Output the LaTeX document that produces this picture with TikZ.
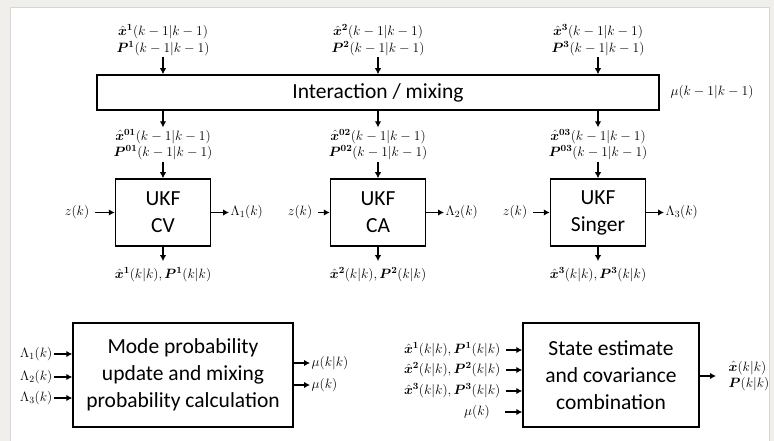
\documentclass[tikz,border=0pt]{standalone}
\usepackage{fix-cm}
\usepackage{amsmath}
\usepackage{bm}
\usepackage{fontspec}
\setmainfont{Carlito}
\usepackage{tikz}
\usetikzlibrary{arrows.meta}

\definecolor{pagegray}{HTML}{F1EFEB}
\definecolor{framegray}{HTML}{D6D6D6}

\begin{document}
\begin{tikzpicture}[x=1pt, y=-1pt]
	\tikzstyle{block} = [draw, line width=1.5pt, inner sep=0pt, align=center, font=\fontsize{21.5}{27}\selectfont]
	\tikzstyle{tallblock} = [block, execute at begin node={\rule{0pt}{27pt}}]
	\tikzstyle{lbl} = [inner sep=1.5pt, align=center, font=\fontsize{13.5}{16.5}\selectfont]
	\tikzstyle{arr} = [-{Latex[length=6pt,width=6.5pt]}, line width=1.5pt]
	\useasboundingbox (0,0) rectangle (774,441);
	\fill[pagegray] (0,0) rectangle (774,441);
	\draw[framegray, fill=white, line width=1pt] (10,8) rectangle (769,450);
	% interaction / mixing
	\node[block, minimum width=562, minimum height=35] (mix) at (378,92.5) {Interaction / mixing};
	\node[lbl] (in1) at (163,40) {$\hat{\bm{x}}^{\bm{1}}(k-1|k-1)$\\$\bm{P}^{\bm{1}}(k-1|k-1)$};
	\node[lbl] (in2) at (378,40) {$\hat{\bm{x}}^{\bm{2}}(k-1|k-1)$\\$\bm{P}^{\bm{2}}(k-1|k-1)$};
	\node[lbl] (in3) at (598,40) {$\hat{\bm{x}}^{\bm{3}}(k-1|k-1)$\\$\bm{P}^{\bm{3}}(k-1|k-1)$};
	\node[lbl] (muold) at (712,92.5) {$\mu(k-1|k-1)$};
	\draw[arr] (in1) -- (in1 |- mix.north);
	\draw[arr] (in2) -- (in2 |- mix.north);
	\draw[arr] (in3) -- (in3 |- mix.north);
	% mixed estimates
	\node[lbl] (mx1) at (163,144.5) {$\hat{\bm{x}}^{\bm{01}}(k-1|k-1)$\\$\bm{P}^{\bm{01}}(k-1|k-1)$};
	\node[lbl] (mx2) at (378,144.5) {$\hat{\bm{x}}^{\bm{02}}(k-1|k-1)$\\$\bm{P}^{\bm{02}}(k-1|k-1)$};
	\node[lbl] (mx3) at (598,144.5) {$\hat{\bm{x}}^{\bm{03}}(k-1|k-1)$\\$\bm{P}^{\bm{03}}(k-1|k-1)$};
	\draw[arr] (mix.south -| mx1) -- (mx1);
	\draw[arr] (mix.south -| mx2) -- (mx2);
	\draw[arr] (mix.south -| mx3) -- (mx3);
	% filters
	\node[tallblock, minimum width=95, minimum height=67] (ukf1) at (163,212.5) {UKF\\CV};
	\node[tallblock, minimum width=95, minimum height=67] (ukf2) at (378,212.5) {UKF\\CA};
	\node[tallblock, minimum width=95, minimum height=67] (ukf3) at (598,212.5) {UKF\\Singer};
	\draw[arr] (mx1) -- (ukf1);
	\draw[arr] (mx2) -- (ukf2);
	\draw[arr] (mx3) -- (ukf3);
	\node[lbl] (z1) at (77,212.5) {$z(k)$};
	\node[lbl] (z2) at (300,212.5) {$z(k)$};
	\node[lbl] (z3) at (515,212.5) {$z(k)$};
	\draw[arr, shorten <=4pt] (z1) -- (ukf1);
	\draw[arr, shorten <=4pt] (z2) -- (ukf2);
	\draw[arr, shorten <=4pt] (z3) -- (ukf3);
	\node[lbl, anchor=west] (lam1) at (229,212.5) {$\Lambda_1(k)$};
	\node[lbl, anchor=west] (lam2) at (444,212.5) {$\Lambda_2(k)$};
	\node[lbl, anchor=west] (lam3) at (664,212.5) {$\Lambda_3(k)$};
	\draw[arr] (ukf1) -- (lam1);
	\draw[arr] (ukf2) -- (lam2);
	\draw[arr] (ukf3) -- (lam3);
	\node[lbl] (out1) at (163,275) {$\hat{\bm{x}}^{\bm{1}}(k|k), \bm{P}^{\bm{1}}(k|k)$};
	\node[lbl] (out2) at (378,275) {$\hat{\bm{x}}^{\bm{2}}(k|k), \bm{P}^{\bm{2}}(k|k)$};
	\node[lbl] (out3) at (598,275) {$\hat{\bm{x}}^{\bm{3}}(k|k), \bm{P}^{\bm{3}}(k|k)$};
	\draw[arr, shorten >=5pt] (ukf1) -- (out1);
	\draw[arr, shorten >=5pt] (ukf2) -- (out2);
	\draw[arr, shorten >=5pt] (ukf3) -- (out3);
	% mode probability
	\node[tallblock, minimum width=220, minimum height=104] (mode) at (183,375) {Mode probability\\update and mixing\\probability calculation};
	\node[lbl, anchor=east] (ml1) at (54,354) {$\Lambda_1(k)$};
	\node[lbl, anchor=east] (ml2) at (54,377) {$\Lambda_2(k)$};
	\node[lbl, anchor=east] (ml3) at (54,398) {$\Lambda_3(k)$};
	\draw[arr] (ml1) -- (ml1 -| mode.west);
	\draw[arr] (ml2) -- (ml2 -| mode.west);
	\draw[arr] (ml3) -- (ml3 -| mode.west);
	\node[lbl, anchor=west] (mu1) at (310,363) {$\mu(k|k)$};
	\node[lbl, anchor=west] (mu2) at (310,385) {$\mu(k)$};
	\draw[arr] (mode.east |- mu1) -- (mu1);
	\draw[arr] (mode.east |- mu2) -- (mu2);
	% combination
	\node[tallblock, minimum width=176, minimum height=104] (comb) at (611,375) {State estimate\\and covariance\\combination};
	\node[lbl, anchor=east] (cl1) at (502,350) {$\hat{\bm{x}}^{\bm{1}}(k|k), \bm{P}^{\bm{1}}(k|k)$};
	\node[lbl, anchor=east] (cl2) at (502,370) {$\hat{\bm{x}}^{\bm{2}}(k|k), \bm{P}^{\bm{2}}(k|k)$};
	\node[lbl, anchor=east] (cl3) at (502,391) {$\hat{\bm{x}}^{\bm{3}}(k|k), \bm{P}^{\bm{3}}(k|k)$};
	\node[lbl] (cl4) at (477,412) {$\mu(k)$};
	\draw[arr, shorten <=4pt] (cl1) -- (cl1 -| comb.west);
	\draw[arr, shorten <=4pt] (cl2) -- (cl2 -| comb.west);
	\draw[arr, shorten <=4pt] (cl3) -- (cl3 -| comb.west);
	\draw[arr, shorten <=14pt] (cl4) -- (cl4 -| comb.west);
	\node[lbl, anchor=west, align=left] (est) at (727,376) {$\hat{\bm{x}}(k|k)$\\$\bm{P}(k|k)$};
	\draw[arr, shorten >=11pt] (comb.east |- est) -- (est);
\end{tikzpicture}
\end{document}
